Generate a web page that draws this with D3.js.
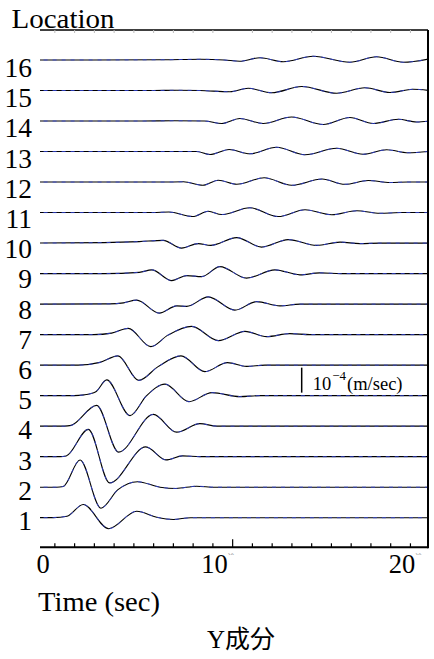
<!DOCTYPE html>
<html><head><meta charset="utf-8">
<script src="https://cdn.jsdelivr.net/npm/d3@7"></script>
<style>body{margin:0;background:#fff} text.serif{font-family:"Liberation Serif","Times New Roman","DejaVu Serif",serif}</style>
</head><body>
<svg id="c" width="434" height="659"></svg>
<script>
// ---- DATA ----
// time in seconds, velocity in units of 1e-5 m/sec
const locations = [1,2,3,4,5,6,7,8,9,10,11,12,13,14,15,16];
const loc1  = [[0,0],[0.95,0.05],[1.64,0.6],[2.46,5.3],[3.75,-4.4],[5.17,2.6],[6.18,0.2],[7.02,-0.7],[7.9,0],[20,0]];
const loc2  = [[0,0],[1.1,0],[1.45,0.3],[2.3,10.9],[3.36,-8.4],[4.22,-1.0],[5.21,2.2],[6.35,0],[7.16,-0.5],[8.2,0.4],[9.13,0],[20,0]];
const loc3  = [[0,0],[1.3,0],[1.6,0.3],[2.72,10.9],[3.8,-10.5],[5.63,3.9],[6.65,-1.3],[7.48,0.3],[8.37,0],[20,0]];
const loc4  = [[0,0],[1.5,0],[1.85,0.3],[3.14,8.3],[4.25,-10.4],[6.01,4.7],[7.19,-2.4],[8.37,1.0],[9.22,0],[20,0]];
const loc5  = [[0,0],[2.0,0],[2.5,0.3],[3.1,1.6],[3.65,6.3],[4.83,-8.0],[5.67,0],[6.6,4.6],[7.81,-2.4],[8.98,1.2],[10.39,-0.4],[11.4,0],[20,0]];
const loc6  = [[0,0],[2.2,0],[3.31,1.1],[4.22,3.7],[5.27,-6.1],[6.25,-0.6],[7.41,3.7],[8.62,-2.6],[9.76,1.0],[10.73,-0.5],[11.66,0],[20,0]];
const loc7  = [[0,0],[3.0,0],[3.9,0.6],[4.74,2.5],[5.88,-4.8],[6.75,-0.2],[7.95,3.3],[9.3,-2.4],[10.65,1.3],[11.75,-0.8],[12.92,0.4],[13.94,0],[20,0]];
const loc8  = [[0,0],[3.8,0.1],[4.5,0.5],[5.17,1.6],[6.31,-3.6],[7.19,-0.7],[7.7,-0.9],[8.79,2.9],[10.14,-2.4],[11.24,1.0],[12.42,-0.7],[13.43,0],[20,0]];
const loc9  = [[0,0],[3.5,0],[5.3,0.5],[5.93,1.5],[6.94,-2.8],[7.7,-0.8],[8.46,-1.2],[9.38,2.8],[10.73,-1.8],[12.17,1.5],[13.43,-0.5],[14.44,0.3],[15.5,0],[20,0]];
const loc10 = [[0,0],[3.5,0.2],[5.3,0.6],[6.51,1.1],[7.44,-2.0],[8.28,-0.2],[8.91,-0.9],[10.23,2.2],[11.49,-1.6],[12.84,1.4],[14.28,-0.9],[15.46,0.4],[16.47,-0.2],[17.48,0],[20,0]];
const loc11 = [[0,0],[6.0,0],[6.8,0.2],[8.0,-1.6],[8.79,0.5],[9.47,-0.8],[10.9,1.9],[12.33,-1.6],[13.69,1.1],[15.04,-0.9],[16.3,0.7],[17.48,-0.3],[18.5,0],[20,0]];
const loc12 = [[0,0],[6.5,0],[7.53,0.1],[8.51,-1.3],[9.3,0.7],[10.23,-0.9],[11.62,1.7],[13.01,-1.3],[14.55,1.2],[15.71,-0.9],[16.89,0.6],[17.99,-0.2],[18.9,0],[20,0]];
const loc13 = [[0,0],[7.2,0],[8.2,0],[8.88,-1.2],[9.85,0.8],[10.9,-0.9],[12.25,1.7],[13.69,-1.3],[15.29,1.3],[16.63,-1.1],[17.82,0.7],[18.91,-0.5],[20,0.1]];
const loc14 = [[0,0],[5.5,0],[7.0,0.1],[8.6,0],[9.47,-1.0],[10.39,1.0],[11.57,-1.0],[13.01,1.6],[14.61,-1.4],[15.96,1.4],[17.14,-1.0],[18.41,0.7],[19.34,-0.4],[20,0]];
const loc15 = [[0,0],[6.0,0],[7.2,0.1],[8.37,0],[9.89,-0.5],[10.81,0.9],[12.0,-0.9],[13.52,1.6],[15.29,-1.1],[16.72,1.1],[17.99,-0.8],[19.16,0.5],[20,0]];
const loc16 = [[0,0],[6.5,0.1],[8.4,0.3],[9.6,0],[10.39,-0.5],[11.41,0.9],[12.59,-0.7],[14.1,1.5],[15.96,-0.9],[17.31,1.3],[18.66,-0.9],[20,0.5]];
const tracesA = [loc1,loc2,loc3,loc4,loc5,loc6,loc7,loc8,loc9,loc10,loc11,loc12,loc13,loc14,loc15,loc16]; // solid black
const tracesB = tracesA; // blue dashed comparison (coincident)
const minorTicks = [1,2,3,4,5,6,7,8,9,11,12,13,14,15,16,17,18,19];
const majorTicks = [10];
const tickLabelValues = [0,10,20];
const tickLabels = ["0","10","20"];
const scaleBarValue = 10; // = 1e-4 m/sec
const xTitle = "Time (sec)";
const yTitle = "Location";
const chartTitle = ["Y","成分"];

// ---- LAYOUT ----
(function(){
const svg = d3.select("#c");
const H = 659;
const pL = 40, pR = 428, pT = 30, pB = 547.3;

const x = d3.scaleLinear().domain([0,20]).range([34.6,429.7]);
const yLoc = d3.scaleLinear().domain([1,16]).range([517.7,60]);
const yLab = d3.scaleLinear().domain([1,16]).range([530,77]);
const amp = d3.scaleLinear().domain([0,10]).range([0,-25]);

svg.append("defs").append("clipPath").attr("id","clip")
  .append("rect").attr("x",pL).attr("y",0).attr("width",pR-pL).attr("height",H);

const g = svg.append("g").attr("clip-path","url(#clip)");
locations.forEach((loc,i)=>{
  const line = d3.line().x(p=>x(p[0])).y(p=>yLoc(loc)+amp(p[1])).curve(d3.curveMonotoneX);
  g.append("path").attr("d",line(tracesA[i])).attr("fill","none")
    .attr("stroke","#000").attr("stroke-width",1.1);
  g.append("path").attr("d",line(tracesB[i])).attr("fill","none")
    .attr("stroke","#3346e0").attr("stroke-width",1).attr("stroke-dasharray","4,5").attr("opacity",0.8);
});

// frame
svg.append("line").attr("x1",pL).attr("x2",pR).attr("y1",pT).attr("y2",pT)
  .attr("stroke","#000").attr("stroke-width",1.5);
svg.append("line").attr("x1",pR).attr("x2",pR).attr("y1",pT).attr("y2",pB+1)
  .attr("stroke","#000").attr("stroke-width",2);
svg.append("line").attr("x1",pL).attr("x2",pR).attr("y1",pB).attr("y2",pB)
  .attr("stroke","#000").attr("stroke-width",2);

// bottom ticks (upward)
const axB = svg.append("g").attr("transform",`translate(0,${pB})`)
  .call(d3.axisBottom(x).tickValues(minorTicks).tickSize(-4).tickFormat(""));
axB.select(".domain").remove();
axB.selectAll("line").attr("stroke","#000").attr("stroke-width",1.2);
const axM = svg.append("g").attr("transform",`translate(0,${pB})`)
  .call(d3.axisBottom(x).tickValues(majorTicks).tickSize(-8).tickFormat(""));
axM.select(".domain").remove();
axM.selectAll("line").attr("stroke","#000").attr("stroke-width",1.2);
// faint top ticks
const axT = svg.append("g").attr("transform",`translate(0,${pT})`)
  .call(d3.axisTop(x).tickValues(minorTicks).tickSize(-3).tickFormat(""));
axT.select(".domain").remove();
axT.selectAll("line").attr("stroke","#bbb").attr("stroke-width",1);

// tick labels
const tickDx = [2,-31,-41];
tickLabelValues.forEach((v,i)=>{
  const t = svg.append("text").attr("class","serif").attr("x",x(v)+tickDx[i]).attr("y",573)
    .attr("font-size",26.5).attr("fill","#000").text(tickLabels[i]);
  if (v !== 0) t.append("tspan").attr("font-size",9).attr("fill","#888").attr("dy",-13).text("`ˆ");
});

// location labels
svg.selectAll("text.loc").data(locations).enter().append("text").attr("class","loc serif")
  .attr("x",32).attr("y",d=>yLab(d)).attr("text-anchor","end")
  .attr("font-size",27.5).attr("fill","#000").text(d=>d);

svg.append("text").attr("class","serif").attr("x",11.5).attr("y",28).attr("font-size",27.5)
  .attr("textLength",103).attr("lengthAdjust","spacingAndGlyphs").text(yTitle);
svg.append("text").attr("class","serif").attr("x",38).attr("y",611).attr("font-size",27.5)
  .attr("textLength",122).attr("lengthAdjust","spacingAndGlyphs").text(xTitle);

const tt = svg.append("text").attr("x",241).attr("y",648).attr("text-anchor","middle").attr("font-size",25);
tt.append("tspan").style("font-family","'Liberation Serif',serif").text(chartTitle[0]);
tt.append("tspan").style("font-family","'Noto Sans CJK JP','Noto Sans CJK SC',sans-serif").text(chartTitle[1]);

// scale bar
const barX = x(13.52);
const barBase = yLoc(5) - 3;
svg.append("line").attr("x1",barX).attr("x2",barX).attr("y1",barBase).attr("y2",barBase+amp(scaleBarValue))
  .attr("stroke","#000").attr("stroke-width",1.5);
const sb = svg.append("text").attr("class","serif").attr("x",barX+11).attr("y",390).attr("font-size",18.5);
sb.append("tspan").text("10");
sb.append("tspan").attr("font-size",13).attr("dy",-10).attr("dx",1).text("−4");
sb.append("tspan").attr("dy",10).attr("dx",1).text("(m/sec)");
})();
</script>
</body></html>
